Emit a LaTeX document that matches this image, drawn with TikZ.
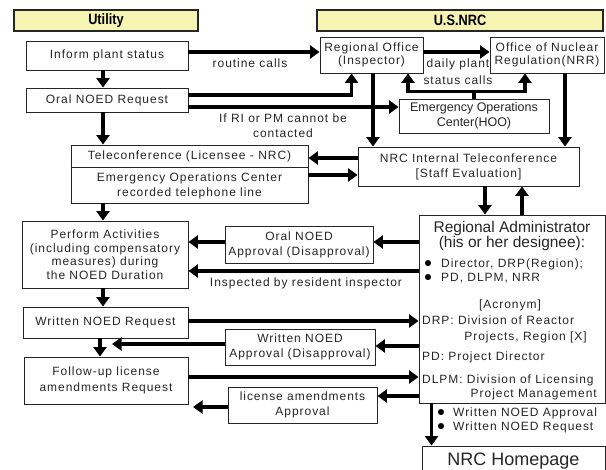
\documentclass[tikz,border=0pt]{standalone}
\usepackage{fontspec}
\setmainfont{Liberation Sans}
\newfontfamily\spfont[LetterSpace=8]{Liberation Sans}
\newfontfamily\hdfont[FakeStretch=0.85]{Liberation Sans}
\usetikzlibrary{arrows.meta,calc}
\definecolor{hdrfill}{HTML}{F5F4B3}
\definecolor{ink}{HTML}{262626}
\begin{document}
\begin{tikzpicture}[x=1pt,y=-1pt,
  box/.style={draw=ink,line width=0.9pt,fill=white,inner sep=0pt,align=center,text=ink,font=\spfont\fontsize{12}{13.5}\selectfont},
  hdr/.style={draw=black!85,line width=2pt,fill=hdrfill,inner sep=0pt,text=black,font=\hdfont\bfseries\fontsize{15}{16}\selectfont},
  arr/.style={line width=3.4pt,draw=black,-{Triangle[length=9.5pt,width=13pt]}},
  ln/.style={line width=3.4pt,draw=black},
  lbl/.style={inner sep=0pt,text=ink,font=\spfont\fontsize{12}{15}\selectfont,align=center},
  ratext/.style={inner sep=0pt,text=ink,font=\spfont\fontsize{12}{14}\selectfont},
  bul/.style={inner sep=0pt,text=black,font=\fontsize{14}{14}\selectfont},
]
\fill[white] (0,0) rectangle (606,470);
\useasboundingbox (0,0) rectangle (606,470);

% headers
\node[hdr,minimum width=184pt,minimum height=21pt] (util) at (106,20.5) {Utility};
\node[hdr,minimum width=286pt,minimum height=21pt] (usnrc) at (460,20.5) {U.S.NRC};

% boxes
\node[box,minimum width=162pt,minimum height=29pt] (inform) at (107,55.5) {Inform plant status};
\node[box,minimum width=162pt,minimum height=24pt] (oral) at (107,100) {Oral NOED Request};
\node[box,minimum width=103pt,minimum height=36pt] (ro) at (371.5,55) {Regional Office\\(Inspector)};
\node[box,minimum width=114pt,minimum height=36pt] (nrr) at (547,55) {Office of Nuclear\\Regulation(NRR)};
\node[box,minimum width=150pt,minimum height=34pt,font=\fontsize{12.5}{15}\selectfont] (eoc) at (474,116) {Emergency Operations\\Center(HOO)};
\node[box,minimum width=237pt,minimum height=58pt] (tele) at (189.5,174) {};
\draw[ink,line width=0.9pt] ([yshift=7pt]tele.west) -- ([yshift=7pt]tele.east);
\node[lbl] (tele1) at (189.5,156) {Teleconference (Licensee - NRC)};
\node[lbl] (tele2) at (189.5,185.5) {Emergency Operations Center\\recorded telephone line};
\node[box,minimum width=221pt,minimum height=39pt,font=\spfont\fontsize{12}{15}\selectfont] (nit) at (468.5,166.5) {NRC Internal Teleconference\\{}[Staff Evaluation]};
\node[box,minimum width=166pt,minimum height=67pt] (perform) at (105,254.5) {Perform Activities\\(including compensatory\\measures) during\\the NOED Duration};
\node[box,minimum width=186pt,minimum height=188pt] (ra) at (512,309) {};
\node[box,minimum width=148pt,minimum height=37pt,font=\spfont\fontsize{12}{15}\selectfont] (oappr) at (299,244.5) {Oral NOED\\Approval (Disapproval)};
\node[box,minimum width=165pt,minimum height=31pt] (wreq) at (105.5,322.5) {Written NOED Request};
\node[box,minimum width=150pt,minimum height=36pt,font=\spfont\fontsize{12}{15}\selectfont] (wappr) at (300,347) {Written NOED\\Approval (Disapproval)};
\node[box,minimum width=164pt,minimum height=47pt,font=\spfont\fontsize{12}{16}\selectfont] (follow) at (106,380.5) {Follow-up license\\amendments Request};
\node[box,minimum width=149pt,minimum height=36pt,font=\spfont\fontsize{12}{15}\selectfont] (lappr) at (302.5,405) {license amendments\\Approval};
\node[box,minimum width=183pt,minimum height=30pt,font=\fontsize{18}{20}\selectfont] (home) at (513.5,461) {NRC Homepage};

% regional administrator text
\node[inner sep=0pt,text=ink,font=\fontsize{15.5}{17}\selectfont] (ra1) at (512,228) {Regional Administrator};
\node[inner sep=0pt,text=ink,font=\fontsize{15.5}{17}\selectfont] (ra2) at (512,243.5) {(his or her designee):};
\node[bul] (b1) at (428,264) {●};
\node[bul] (b2) at (428,278) {●};
\node[ratext,anchor=west] (ra3) at (441,264) {Director, DRP(Region);};
\node[ratext,anchor=west] (ra4) at (441,278) {PD, DLPM, NRR};
\node[ratext] (ra5) at (510,305) {[Acronym]};
\node[ratext,anchor=west] (ra6) at (422,320) {DRP: Division of Reactor};
\node[ratext,anchor=east] (ra7) at (587,337) {Projects, Region [X]};
\node[ratext,anchor=west] (ra8) at (422,357) {PD: Project Director};
\node[ratext,anchor=west] (ra9) at (422,380) {DLPM: Division of Licensing};
\node[ratext,anchor=east] (ra10) at (597,394) {Project Management};

% labels
\node[lbl] (routine) at (250,63) {routine calls};
\node[lbl,font=\spfont\fontsize{12}{17}\selectfont] (daily) at (458,71.5) {daily plant\\status calls};
\node[lbl] (ifri) at (283,125.5) {If RI or PM cannot be\\contacted};
\node[lbl] (inspl) at (306,283) {Inspected by resident inspector};
\node[bul] (b3) at (441,413) {●};
\node[bul] (b4) at (441,427) {●};
\node[ratext,anchor=west] (wna) at (453,413) {Written NOED Approval};
\node[ratext,anchor=west] (wnr) at (453,427) {Written NOED Request};

% helper coordinates
\coordinate (cx) at (103,0);
\coordinate (cx2) at (100,0);
\coordinate (cx3) at (112,0);
\coordinate (cx4) at (193,0);

% top arrows
\coordinate (a1) at ([yshift=3.5pt]inform.east);
\draw[arr] (a1) -- (a1 -| ro.west);
\coordinate (a2) at ([yshift=5pt]oral.east);
\coordinate (a2t) at ([xshift=32pt]ro.south west);
\draw[arr] (a2) -| (a2t);
\coordinate (a3) at ([yshift=-7pt]oral.east);
\draw[arr] (a3) -- (a3 -| eoc.west);
\coordinate (a4) at ([yshift=3pt]ro.east);
\draw[arr] (a4) -- (a4 -| nrr.west);
\coordinate (br) at ([yshift=7pt]eoc.north);
\coordinate (a5) at ([xshift=36.5pt]ro.south);
\coordinate (a6) at ([xshift=-22pt]nrr.south);
\draw[ln] (eoc.north) -- (br);
\draw[arr] (br) -| (a5);
\draw[arr] (br) -| (a6);
\coordinate (a7) at ([xshift=1.5pt]ro.south);
\draw[arr] (a7) -- (a7 |- nit.north);
\coordinate (a8) at ([xshift=18pt]nrr.south);
\draw[arr] (a8) -- (a8 |- nit.north);
\coordinate (a9) at ([yshift=8.5pt]nit.west);
\draw[arr] (a9) -- (a9 -| tele.east);
\coordinate (a10) at ([yshift=-1pt]tele.east);
\draw[arr] (a10) -- (a10 -| nit.west);

% left column
\draw[arr] (cx |- inform.south) -- (cx |- oral.north);
\draw[arr] (cx |- oral.south) -- (cx |- tele.north);
\draw[arr] (cx |- tele.south) -- (cx |- perform.north);
\draw[arr] (cx |- perform.south) -- (cx |- wreq.north);
\draw[arr] (cx2 |- wreq.south) -- (cx2 |- follow.north);

% nit <-> ra
\coordinate (a11) at ([xshift=16.5pt]nit.south);
\draw[arr] (a11) -- (a11 |- ra.north);
\coordinate (a12) at ([xshift=10pt]ra.north);
\draw[arr] (a12) -- (a12 |- nit.south);

% middle arrows
\coordinate (a13) at ([yshift=2.5pt]oappr.east);
\draw[arr] (a13 -| ra.west) -- (a13);
\coordinate (a14) at ([yshift=2.5pt]oappr.west);
\draw[arr] (a14) -- (a14 -| perform.east);
\coordinate (a15) at ([yshift=-16.5pt]perform.east);
\draw[arr] (a15 -| ra.west) -- (a15);
\coordinate (a16) at ([yshift=1.5pt]wreq.east);
\draw[arr] (a16) -- (a16 -| ra.west);
\coordinate (a17) at ([yshift=1pt]wappr.east);
\draw[arr] (a17 -| ra.west) -- (a17);
\coordinate (a18) at ([yshift=3pt]wappr.west);
\draw[arr] (a18) -- (a18 -| cx3);
\coordinate (a19) at ([yshift=3.5pt]follow.east);
\draw[arr] (a19) -- (a19 -| ra.west);
\coordinate (a20) at ([yshift=9pt]lappr.east);
\draw[arr] (a20 -| ra.west) -- (a20);
\coordinate (a21) at ([yshift=-2pt]lappr.west);
\draw[arr] (a21) -- (a21 -| cx4);
\coordinate (a22) at ([xshift=13pt]ra.south west);
\draw[arr] (a22) -- (a22 |- home.north);
\end{tikzpicture}
\end{document}
